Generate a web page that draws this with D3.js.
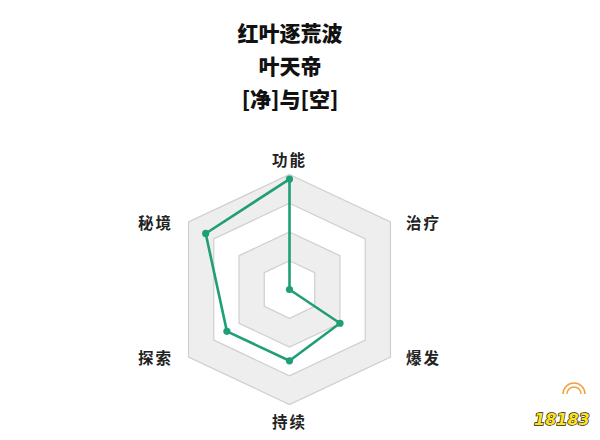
<!DOCTYPE html>
<html><head><meta charset="utf-8">
<script src="https://cdn.jsdelivr.net/npm/d3@7"></script>
<style>html,body{margin:0;padding:0;background:#fff;}svg{display:block;}</style>
</head><body>
<svg id="c" width="600" height="440"></svg>
<script>
const titleLines = ["红叶逐荒波", "叶天帝", "[净]与[空]"];
const axes = ["功能", "治疗", "爆发", "持续", "探索", "秘境"];
const values = [96, 0, 50, 62, 62, 83];
const levels = [25, 50, 75, 100];

const svg = d3.select("#c");
const cx = 289.5, cy = 289.5, R = 115;
const font = "'Noto Sans CJK SC','Noto Sans',sans-serif";

// unit directions for the six axes (as drawn in the reference)
const dirs = [[0,-1],[0.878,-0.587],[0.878,0.587],[0,1],[-0.878,0.587],[-0.878,-0.587]];
const r = d3.scaleLinear().domain([0, 100]).range([0, R]);
const pt = (i, v) => [cx + dirs[i][0]*r(v), cy + dirs[i][1]*r(v)];

// title
svg.append("g").selectAll("text").data(titleLines).join("text")
  .attr("x", 290).attr("y", (d,i) => 32 + i*33)
  .attr("text-anchor","middle").attr("dominant-baseline","central")
  .attr("font-family", font).attr("font-weight", 900).attr("font-size", 21)
  .attr("fill","#111").text(d => d);

// rings (outer to inner, alternating fills)
const ringG = svg.append("g");
levels.slice().reverse().forEach((lv, k) => {
  const poly = axes.map((a,i) => pt(i, lv));
  ringG.append("path")
    .attr("d", d3.line()(poly) + "Z")
    .attr("fill", k % 2 === 0 ? "#eeeeee" : "#ffffff")
    .attr("stroke", "#cfcfcf").attr("stroke-width", 1.2);
});

// data polygon
const dataPts = values.map((v,i) => pt(i, v));
svg.append("path")
  .attr("d", d3.line()(dataPts) + "Z")
  .attr("fill", "none").attr("stroke", "#1f9e78").attr("stroke-width", 2.6)
  .attr("stroke-linejoin","round");
svg.append("g").selectAll("circle").data(dataPts).join("circle")
  .attr("cx", d => d[0]).attr("cy", d => d[1]).attr("r", 3.6)
  .attr("fill", "#1f9e78");

// axis labels
const labelPos = (i) => {
  const d = dirs[i];
  if (d[0] === 0) return [cx, cy + d[1]*(R + 16)];
  return [cx + d[0]*R + Math.sign(d[0])*33, cy + d[1]*R];
};
svg.append("g").selectAll("text").data(axes).join("text")
  .attr("x", (d,i) => labelPos(i)[0]).attr("y", (d,i) => labelPos(i)[1])
  .attr("text-anchor","middle").attr("dominant-baseline","central")
  .attr("font-family", font).attr("font-weight", 700).attr("font-size", 15.5)
  .attr("letter-spacing", 2)
  .attr("fill","#222").text(d => d);

// watermark logo
const wm = svg.append("g").attr("transform","translate(534,398)");
const sun = wm.append("g").attr("transform","translate(40,-4)");
[7,11].forEach(rr => sun.append("path")
  .attr("d", d3.arc()({innerRadius: rr, outerRadius: rr, startAngle: -Math.PI/2, endAngle: Math.PI/2}))
  .attr("fill","none").attr("stroke","#f0a040").attr("stroke-width",1.5));
wm.append("text").attr("x",0).attr("y",27)
  .attr("font-family","'DejaVu Sans',sans-serif").attr("font-weight",900).attr("font-size",16)
  .attr("font-style","italic")
  .attr("fill","#ffe21a").attr("stroke","#222").attr("stroke-width",1.4)
  .attr("paint-order","stroke").text("18183");
</script>
</body></html>
